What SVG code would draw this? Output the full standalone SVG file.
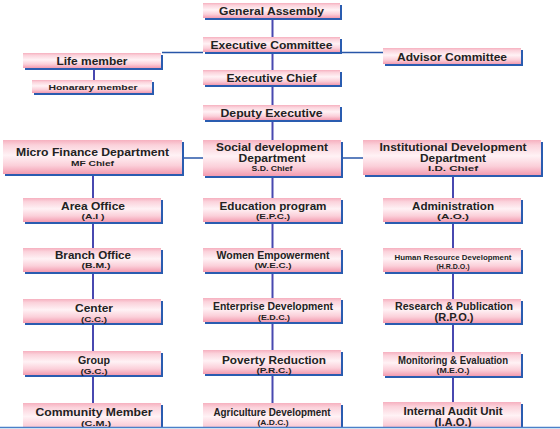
<svg xmlns="http://www.w3.org/2000/svg" width="560" height="429" viewBox="0 0 560 429">
<style>
.box{fill:url(#pink)}
.sh{fill:#2a5cb0}
.t{font-family:"Liberation Sans",Arial,sans-serif;font-weight:bold;font-size:11px;fill:#222;text-anchor:middle}
.s{font-family:"Liberation Sans",Arial,sans-serif;font-weight:bold;font-size:8px;fill:#222;text-anchor:middle}
.v{stroke:#4848b0;stroke-width:2;fill:none}
.h{stroke:#2856a8;stroke-width:1.5;fill:none}
</style>
<defs>
<linearGradient id="pink" x1="0" y1="0" x2="0" y2="1">
<stop offset="0" stop-color="#f6b0bf"/>
<stop offset="0.15" stop-color="#fbd2db"/>
<stop offset="0.45" stop-color="#fff2f5"/>
<stop offset="0.75" stop-color="#fbcfd9"/>
<stop offset="1" stop-color="#f39bb0"/>
</linearGradient>
<clipPath id="cut"><rect x="0" y="0" width="560" height="427"/></clipPath>
</defs>
<rect x="0" y="0" width="560" height="429" fill="#fff"/>
<g id="connectors">
<line class="v" x1="272.5" y1="19" x2="272.5" y2="403"/>
<line class="v" x1="93" y1="175" x2="93" y2="403"/>
<line class="v" x1="453" y1="176" x2="453" y2="402"/>
<line class="v" x1="94" y1="69" x2="94" y2="80"/>
<line class="h" x1="162" y1="52.5" x2="203" y2="52.5"/>
<line class="h" x1="341" y1="52.5" x2="383" y2="52.5"/>
<line class="h" x1="183" y1="158" x2="203" y2="158"/>
<line class="h" x1="342" y1="158" x2="363" y2="158"/>
</g>
<g id="general-assembly"><rect class="sh" x="205" y="5" width="137" height="15"/><rect class="box" x="203" y="3" width="137" height="15"/><text class="t" x="271.5" y="15" textLength="105" lengthAdjust="spacingAndGlyphs">General Assembly</text></g>
<g id="executive-committee"><rect class="sh" x="205" y="39" width="137" height="15"/><rect class="box" x="203" y="37" width="137" height="15"/><text class="t" x="271.5" y="49" textLength="122" lengthAdjust="spacingAndGlyphs">Executive Committee</text></g>
<g id="executive-chief"><rect class="sh" x="205" y="72" width="137" height="15"/><rect class="box" x="203" y="70" width="137" height="15"/><text class="t" x="271.5" y="82" textLength="90" lengthAdjust="spacingAndGlyphs">Executive Chief</text></g>
<g id="deputy-executive"><rect class="sh" x="205" y="107" width="137" height="15"/><rect class="box" x="203" y="105" width="137" height="15"/><text class="t" x="271.5" y="117" textLength="102" lengthAdjust="spacingAndGlyphs">Deputy Executive</text></g>
<g id="life-member"><rect class="sh" x="25" y="55" width="138" height="15"/><rect class="box" x="23" y="53" width="138" height="15"/><text class="t" x="92" y="65" textLength="71" lengthAdjust="spacingAndGlyphs">Life member</text></g>
<g id="honarary-member"><rect class="sh" x="34" y="82" width="120" height="13"/><rect class="box" x="32" y="80" width="120" height="13"/><text class="s" x="93" y="90" textLength="89" lengthAdjust="spacingAndGlyphs">Honarary member</text></g>
<g id="advisor-committee"><rect class="sh" x="385" y="50" width="138" height="16"/><rect class="box" x="383" y="48" width="138" height="16"/><text class="t" x="452" y="60.5" textLength="110" lengthAdjust="spacingAndGlyphs">Advisor Committee</text></g>
<g id="micro-finance"><rect class="sh" x="5" y="142" width="179" height="34"/><rect class="box" x="3" y="140" width="179" height="34"/><text class="t" x="92.5" y="156" textLength="153" lengthAdjust="spacingAndGlyphs">Micro Finance Department</text><text class="s" x="92.5" y="165.5" textLength="43" lengthAdjust="spacingAndGlyphs">MF Chief</text></g>
<g id="social-development"><rect class="sh" x="205" y="142" width="138" height="36"/><rect class="box" x="203" y="140" width="138" height="36"/><text class="t" x="272" y="151" textLength="112" lengthAdjust="spacingAndGlyphs">Social development</text><text class="t" x="272" y="162" textLength="67" lengthAdjust="spacingAndGlyphs">Department</text><text class="s" x="272" y="170.5" textLength="41" lengthAdjust="spacingAndGlyphs">S.D. Chief</text></g>
<g id="institutional-development"><rect class="sh" x="365" y="142" width="178" height="35"/><rect class="box" x="363" y="140" width="178" height="35"/><text class="t" x="453" y="151" textLength="147" lengthAdjust="spacingAndGlyphs">Institutional Development</text><text class="t" x="453" y="162" textLength="66" lengthAdjust="spacingAndGlyphs">Department</text><text class="s" x="453" y="171" textLength="50" lengthAdjust="spacingAndGlyphs">I.D. Chief</text></g>
<g id="area-office"><rect class="sh" x="25" y="200" width="138" height="24"/><rect class="box" x="23" y="198" width="138" height="24"/><text class="t" x="93" y="209.5" textLength="64" lengthAdjust="spacingAndGlyphs">Area Office</text><text class="s" x="93" y="219" textLength="23" lengthAdjust="spacingAndGlyphs">(A.I )</text></g>
<g id="branch-office"><rect class="sh" x="25" y="250" width="138" height="24"/><rect class="box" x="23" y="248" width="138" height="24"/><text class="t" x="93" y="259" textLength="76" lengthAdjust="spacingAndGlyphs">Branch Office</text><text class="s" x="96" y="268" textLength="29" lengthAdjust="spacingAndGlyphs">(B.M.)</text></g>
<g id="center"><rect class="sh" x="25" y="301" width="138" height="24"/><rect class="box" x="23" y="299" width="138" height="24"/><text class="t" x="94" y="311.5" textLength="38" lengthAdjust="spacingAndGlyphs">Center</text><text class="s" x="94" y="321.5" textLength="26" lengthAdjust="spacingAndGlyphs">(C.C.)</text></g>
<g id="group"><rect class="sh" x="25" y="353" width="138" height="24"/><rect class="box" x="23" y="351" width="138" height="24"/><text class="t" x="94" y="364" textLength="32" lengthAdjust="spacingAndGlyphs">Group</text><text class="s" x="94" y="373.5" textLength="27" lengthAdjust="spacingAndGlyphs">(G.C.)</text></g>
<g id="community-member" clip-path="url(#cut)"><rect class="sh" x="25" y="405" width="138" height="30"/><rect class="box" x="23" y="403" width="138" height="30"/><text class="t" x="94" y="415.5" textLength="117" lengthAdjust="spacingAndGlyphs">Community Member</text><text class="s" x="96" y="425.5" textLength="30" lengthAdjust="spacingAndGlyphs">(C.M.)</text></g>
<g id="education-program"><rect class="sh" x="205" y="200" width="138" height="24"/><rect class="box" x="203" y="198" width="138" height="24"/><text class="t" x="273" y="209.5" textLength="107" lengthAdjust="spacingAndGlyphs">Education program</text><text class="s" x="273" y="219" textLength="34" lengthAdjust="spacingAndGlyphs">(E.P.C.)</text></g>
<g id="women-empowerment"><rect class="sh" x="205" y="250" width="138" height="24"/><rect class="box" x="203" y="248" width="138" height="24"/><text class="t" x="273" y="259" font-size="10" textLength="113" lengthAdjust="spacingAndGlyphs">Women Empowerment</text><text class="s" x="273" y="268" textLength="37" lengthAdjust="spacingAndGlyphs">(W.E.C.)</text></g>
<g id="enterprise-development"><rect class="sh" x="205" y="300" width="138" height="24"/><rect class="box" x="203" y="298" width="138" height="24"/><text class="t" x="273" y="310" font-size="9.5" textLength="120" lengthAdjust="spacingAndGlyphs">Enterprise Development</text><text class="s" x="274" y="320" textLength="32" lengthAdjust="spacingAndGlyphs">(E.D.C.)</text></g>
<g id="poverty-reduction"><rect class="sh" x="205" y="352" width="138" height="24"/><rect class="box" x="203" y="350" width="138" height="24"/><text class="t" x="274" y="364" textLength="104" lengthAdjust="spacingAndGlyphs">Poverty Reduction</text><text class="s" x="274" y="373" textLength="35" lengthAdjust="spacingAndGlyphs">(P.R.C.)</text></g>
<g id="agriculture-development" clip-path="url(#cut)"><rect class="sh" x="205" y="405" width="138" height="30"/><rect class="box" x="203" y="403" width="138" height="30"/><text class="t" x="272" y="415.5" font-size="9.5" textLength="117" lengthAdjust="spacingAndGlyphs">Agriculture Development</text><text class="s" x="273" y="425" textLength="31" lengthAdjust="spacingAndGlyphs">(A.D.C.)</text></g>
<g id="administration"><rect class="sh" x="385" y="200" width="138" height="24"/><rect class="box" x="383" y="198" width="138" height="24"/><text class="t" x="453" y="209.5" textLength="82" lengthAdjust="spacingAndGlyphs">Administration</text><text class="s" x="453" y="219" textLength="32" lengthAdjust="spacingAndGlyphs">(A.O.)</text></g>
<g id="human-resource"><rect class="sh" x="385" y="250" width="138" height="24"/><rect class="box" x="383" y="248" width="138" height="24"/><text class="s" x="453" y="259.5" textLength="117" lengthAdjust="spacingAndGlyphs">Human Resource Development</text><text class="s" x="453" y="268.5" font-size="7" textLength="33" lengthAdjust="spacingAndGlyphs">(H.R.D.O.)</text></g>
<g id="research-publication"><rect class="sh" x="385" y="301" width="138" height="24"/><rect class="box" x="383" y="299" width="138" height="24"/><text class="t" x="454" y="310" font-size="9.5" textLength="118" lengthAdjust="spacingAndGlyphs">Research &amp; Publication</text><text class="t" x="454" y="321" font-size="9.5" textLength="39" lengthAdjust="spacingAndGlyphs">(R.P.O.)</text></g>
<g id="monitoring-evaluation"><rect class="sh" x="385" y="354" width="138" height="24"/><rect class="box" x="383" y="352" width="138" height="24"/><text class="t" x="453" y="363.5" font-size="9.5" textLength="110" lengthAdjust="spacingAndGlyphs">Monitoring &amp; Evaluation</text><text class="s" x="453" y="373" textLength="33" lengthAdjust="spacingAndGlyphs">(M.E.O.)</text></g>
<g id="internal-audit" clip-path="url(#cut)"><rect class="sh" x="385" y="404" width="138" height="30"/><rect class="box" x="383" y="402" width="138" height="30"/><text class="t" x="453" y="414.5" font-weight="normal" textLength="99" lengthAdjust="spacingAndGlyphs">Internal Audit  Unit</text><text class="t" x="453" y="425.5" font-weight="normal" textLength="37" lengthAdjust="spacingAndGlyphs">(I.A.O.)</text></g>
<line x1="0" y1="427.5" x2="560" y2="427.5" stroke="#4a80c8" stroke-width="1.5"/>
</svg>
